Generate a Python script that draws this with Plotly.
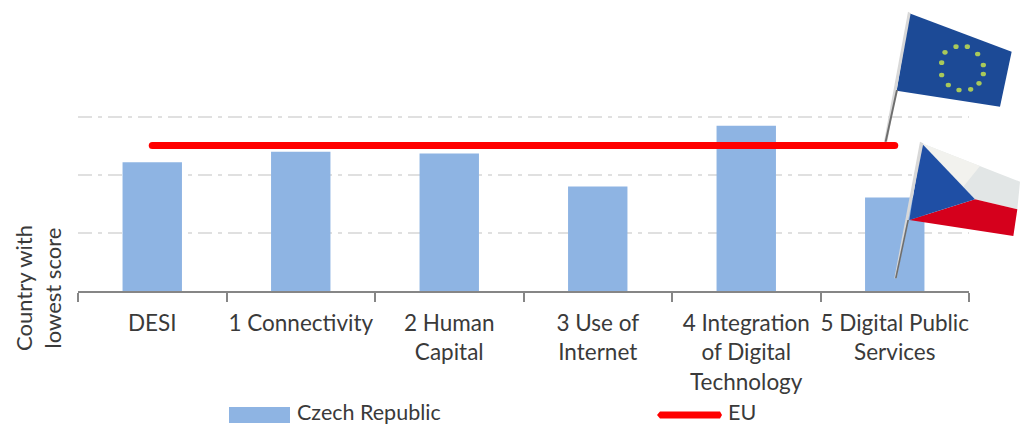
import plotly.graph_objects as go

categories = ["DESI", "1 Connectivity", "2 Human<br>Capital", "3 Use of<br>Internet",
              "4 Integration<br>of Digital<br>Technology", "5 Digital Public<br>Services"]
czech_republic = [2.22, 2.40, 2.37, 1.80, 2.85, 1.61]
eu = [2.51, 2.51, 2.51, 2.51, 2.51, 2.51]

W, H = 1021, 426
L, R, T, B = 78, 969, 111, 291

def px(x, y):
    return (x - L) / (R - L), (B - y) / (B - T)

def zoom_pt(zx, zy):
    return px(880 + zx / 3, zy / 3)

def poly(points, color, z=True):
    pts = [zoom_pt(*p) if z else px(*p) for p in points]
    path = "M " + " L ".join(f"{a:.5f},{b:.5f}" for a, b in pts) + " Z"
    return dict(type="path", xref="paper", yref="paper", path=path,
                fillcolor=color, line=dict(width=0), layer="above")

shapes = [
    # EU flag
    poly([(88, 40), (395, 155), (360, 320), (50, 272)], "#1c4a96"),
    poly([(84, 35), (92, 40), (22, 425), (12, 425)], "#d8d8d8"),
    poly([(48, 270), (54, 270), (20, 425), (14, 425)], "#6e6e6e"),
    # Czech flag
    poly([(125, 430), (420, 545), (412, 628), (285, 598)], "#e2e6e6"),
    poly([(125, 430), (300, 498), (250, 560)], "#f2f2ee"),
    poly([(88, 660), (285, 598), (412, 628), (400, 708)], "#d5001c"),
    poly([(125, 430), (285, 598), (88, 660)], "#1f4fa5"),
    poly([(120, 425), (130, 430), (50, 835), (43, 835)], "#d8d8d8"),
    poly([(82, 660), (87, 660), (50, 835), (45, 835)], "#6e6e6e"),
    # Legend swatches
    poly([(229, 407), (290, 407), (290, 423), (229, 423)], "#8eb4e3", z=False),
    poly([(660, 411.5), (720, 411.5), (722, 415), (720, 418.5), (660, 418.5), (657, 415)], "#ff0000", z=False),
]
stars = [(195, 157), (228, 140), (262, 140), (293, 162), (310, 195), (310, 222),
         (297, 250), (272, 268), (237, 270), (205, 255), (185, 225), (185, 188)]
for sx, sy in stars:
    x0, y0 = zoom_pt(sx - 8, sy - 7)
    x1, y1 = zoom_pt(sx + 8, sy + 7)
    shapes.append(dict(type="circle", xref="paper", yref="paper", x0=x0, y0=y0, x1=x1, y1=y1,
                       fillcolor="#a9c95a", line=dict(width=0), layer="above"))

FONT = "Lato, Carlito, Calibri, sans-serif"
TEXT = "#3a3a3a"

def note(text, x, y, anchor="left", angle=0, size=22):
    ax, ay = px(x, y)
    return dict(text=text, xref="paper", yref="paper", x=ax, y=ay, textangle=angle,
                showarrow=False, xanchor=anchor, yanchor="middle", borderpad=0,
                font=dict(family=FONT, size=size, color=TEXT))

fig = go.Figure()
fig.add_bar(x=categories, y=czech_republic, name="Czech Republic",
            marker=dict(color="#8eb4e3", line=dict(width=0)))
fig.add_scatter(x=categories, y=eu, name="EU", mode="lines+markers",
                line=dict(color="#ff0000", width=7),
                marker=dict(color="#ff0000", size=7))

fig.update_layout(
    width=W, height=H, autosize=False,
    margin=dict(l=L, r=W - R, t=T, b=H - B, pad=0),
    paper_bgcolor="white", plot_bgcolor="white",
    bargap=0.6, shapes=shapes, showlegend=False,
    font=dict(family=FONT, size=22, color=TEXT),
    xaxis=dict(type="category", tickson="boundaries", ticks="outside", ticklen=9, tickwidth=2,
               tickcolor="#868686", linecolor="#868686", linewidth=2, showgrid=False,
               tickangle=0, tickfont=dict(family=FONT, size=22.5, color=TEXT), ticklabelstandoff=11),
    yaxis=dict(range=[0, 180 / 58], tick0=0, dtick=1, showticklabels=False, ticks="", zeroline=False,
               showgrid=True, gridcolor="#e0e0e0", gridwidth=2,
               griddash="14px,6px,4px,6px", showline=False),
    annotations=[
        note("Country with<br>lowest score", 38, 288, "center", -90, 22),
        note("Czech Republic", 296, 412, size=21.5),
        note("EU", 727, 412, size=21.5),
    ],
)
fig.write_html("out.html", config={"displayModeBar": False},
               post_script="document.body.style.margin='0';document.documentElement.style.overflow='hidden';")
